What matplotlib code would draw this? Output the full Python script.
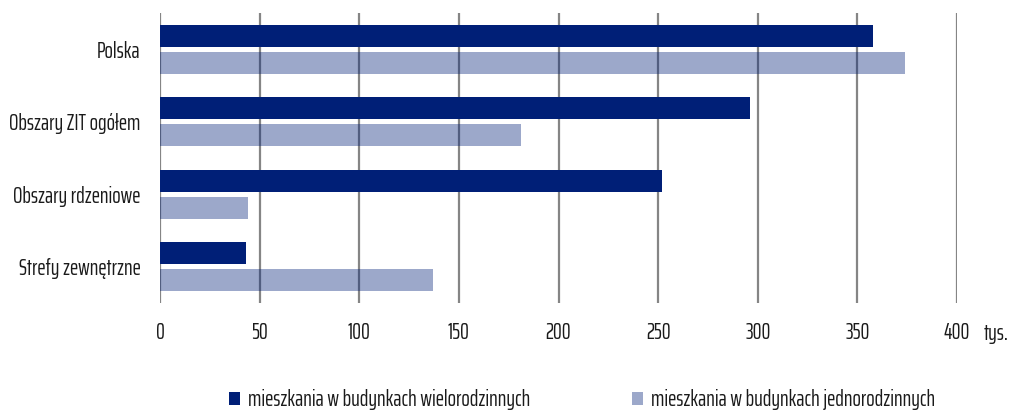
import matplotlib.pyplot as plt
import numpy as np

categories = ["Polska", "Obszary ZIT ogółem", "Obszary rdzeniowe", "Strefy zewnętrzne"]
wielo = [358, 296, 252, 43]
jedno = [374, 181, 44, 137]
ticks = [0, 50, 100, 150, 200, 250, 300, 350, 400]

navy = "#001f77"
txt = "#1a1a1a"
plt.rcParams["font.family"] = ["Saira ExtraCondensed", "Pathway Gothic One", "DejaVu Sans"]

fig = plt.figure(figsize=(10.09, 4.12), dpi=100)
ax = fig.add_axes([160 / 1009, 1 - 303 / 412, 797 / 1009, 290 / 412])

y = np.arange(len(categories))
h = 0.30
ax.barh(y - 0.185, wielo, height=h, color=navy, zorder=3,
        label="mieszkania w budynkach wielorodzinnych")
ax.barh(y + 0.185, jedno, height=h, color=navy, alpha=0.39, zorder=3,
        label="mieszkania w budynkach jednorodzinnych")

ax.set_xlim(0, 400)
ax.set_ylim(3.5, -0.5)
ax.set_xticks(ticks)
ax.set_yticks(y)
ax.set_yticklabels(categories)
ax.tick_params(axis="both", length=0, labelsize=16, colors=txt)
ax.tick_params(axis="x", pad=14)
ax.tick_params(axis="y", pad=14)
ax.grid(axis="x", color="#858585", linewidth=1.6, zorder=1)
ax.set_axisbelow(True)
for s in ax.spines.values():
    s.set_visible(False)

fig.text(984 / 1009, 1 - 333 / 412, "tys.", fontsize=16, color=txt,
         ha="left", va="center")

leg = fig.legend(loc="center", bbox_to_anchor=(0.577, 1 - 400 / 412), ncol=2,
                 frameon=False, fontsize=16, handlelength=0.5, handleheight=0.5,
                 handletextpad=0.35, columnspacing=4.6)
for t in leg.get_texts():
    t.set_color(txt)

fig.savefig("out.png", dpi=100)
